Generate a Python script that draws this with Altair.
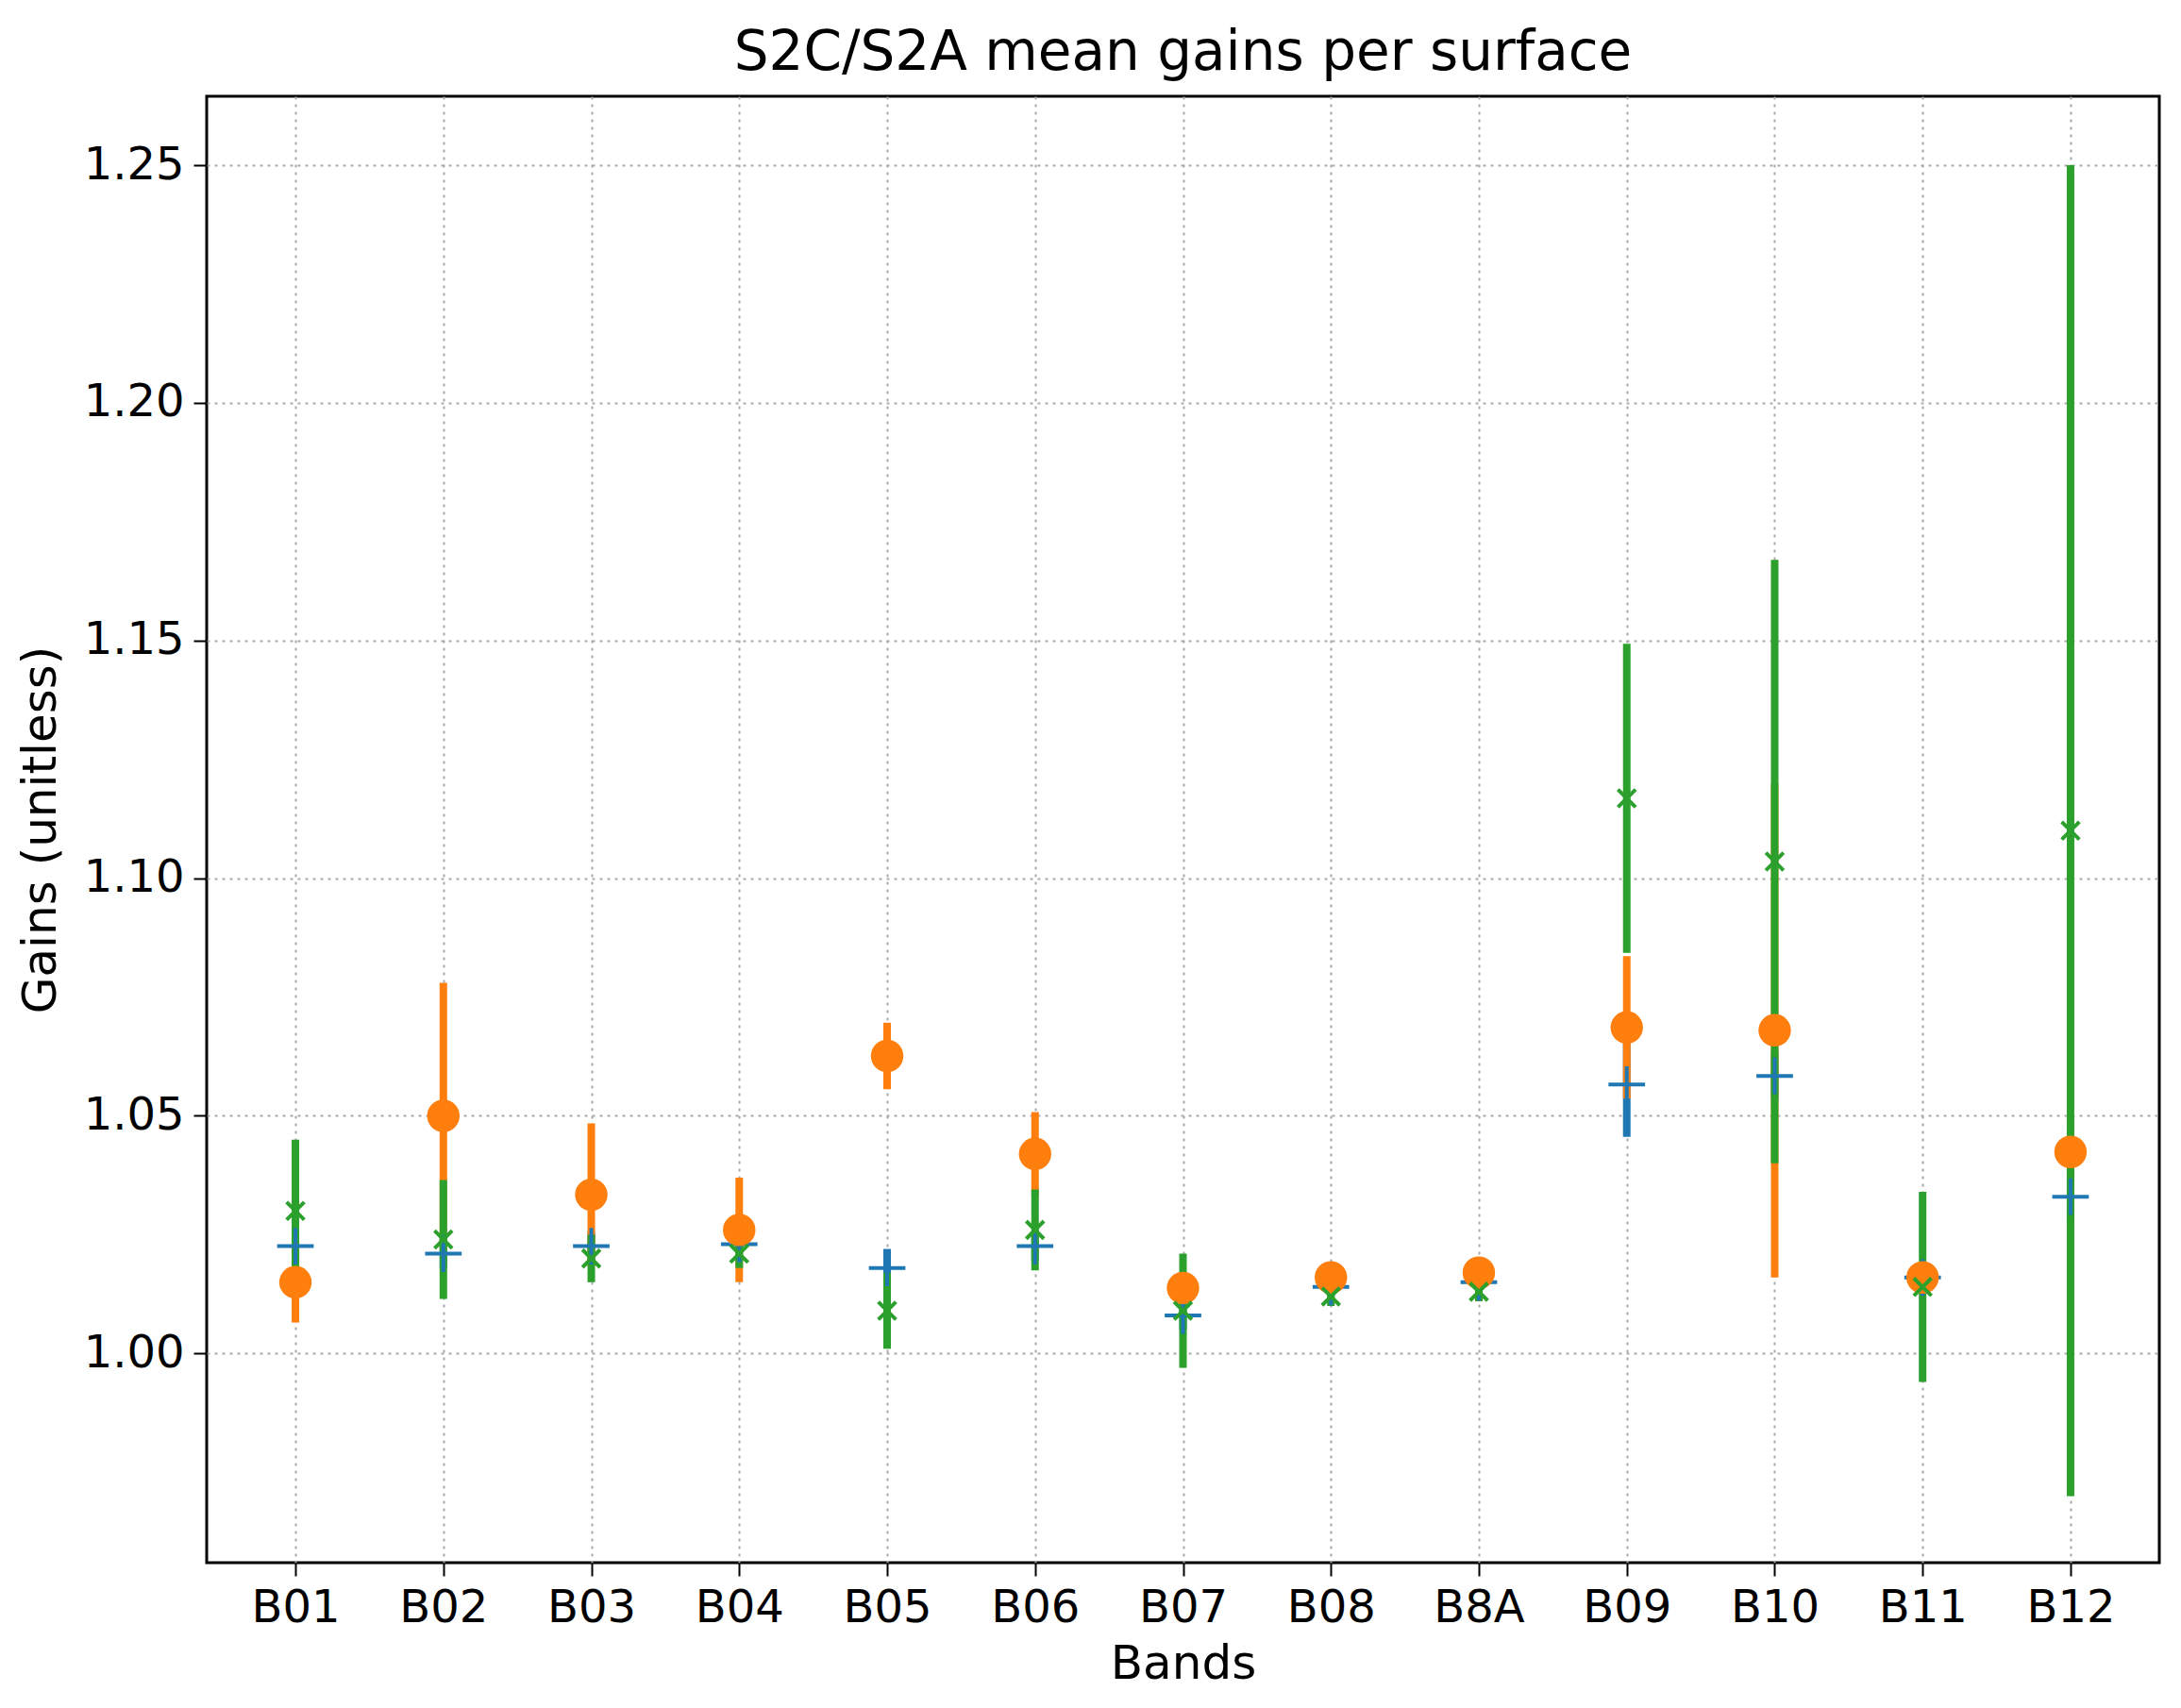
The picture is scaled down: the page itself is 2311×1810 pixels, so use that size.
import altair as alt
import pandas as pd

bands = ["B01", "B02", "B03", "B04", "B05", "B06", "B07", "B08", "B8A", "B09", "B10", "B11", "B12"]

soil_mean = [1.0226, 1.021, 1.0226, 1.023, 1.018, 1.0226, 1.008, 1.014, 1.015, 1.0566, 1.0584, 1.016, 1.033]
soil_err = [0.003, 0.003, 0.003, 0.002, 0.004, 0.003, 0.003, 0.002, 0.002, 0.011, 0.005, 0.002, 0.005]
veg_mean = [1.015, 1.050, 1.0334, 1.026, 1.0626, 1.042, 1.0138, 1.016, 1.017, 1.0686, 1.068, 1.016, 1.0424]
veg_err = [0.0085, 0.028, 0.015, 0.011, 0.007, 0.0088, 0.002, 0.003, 0.002, 0.015, 0.052, 0.002, 0.005]
water_mean = [1.030, 1.024, 1.020, 1.021, 1.009, 1.026, 1.009, 1.012, 1.013, 1.1168, 1.1035, 1.014, 1.110]
water_err = [0.015, 0.0125, 0.005, 0.003, 0.008, 0.0085, 0.012, 0.002, 0.002, 0.0325, 0.0635, 0.020, 0.140]

series = ["soil", "vegetation", "water"]
colors = ["#1f77b4", "#ff7f0e", "#2ca02c"]

rows = []
for k, (name, means, errs) in enumerate([("soil", soil_mean, soil_err),
                                         ("vegetation", veg_mean, veg_err),
                                         ("water", water_mean, water_err)]):
    for b, m, e in zip(bands, means, errs):
        rows.append({"band": b, "series": name, "ord": k, "mean": m, "lo": m - e, "hi": m + e})
df = pd.DataFrame(rows)

plus = "M-1,0L1,0M0,-1L0,1"
cross = "M-1,-1L1,1M-1,1L1,-1"

axis_style = dict(grid=True, gridDash=[3, 5], gridColor="#aaaaaa", gridWidth=2,
                  tickColor="black", tickSize=14, tickWidth=2, labelFontSize=48,
                  titleFontSize=50, labelColor="black", titleColor="black",
                  titleFontWeight="normal", labelPadding=10, domain=False)

x = alt.X("band:N", sort=bands, title="Bands",
          scale=alt.Scale(type="point", padding=0.6),
          axis=alt.Axis(labelAngle=0, titlePadding=10, **axis_style))
yscale = alt.Scale(domain=[0.956, 1.2645], nice=False, zero=False)
yaxis = alt.Axis(values=[1.0, 1.05, 1.10, 1.15, 1.20, 1.25], format=".2f",
                 titlePadding=20, **axis_style)
cscale = alt.Scale(domain=series, range=colors)
color = alt.Color("series:N", scale=cscale,
                  legend=alt.Legend(title=None, orient="top-left", labelFontSize=50,
                                    symbolStrokeWidth=5, strokeColor="#cccccc",
                                    padding=24, cornerRadius=6, fillColor="white",
                                    rowPadding=22, labelOffset=50, offset=25,
                                    labelColor="black"))

bars = alt.Chart(df).mark_rule(strokeWidth=8).encode(
    x=x,
    y=alt.Y("lo:Q", scale=yscale, axis=yaxis, title="Gains (unitless)"),
    y2="hi:Q",
    color=alt.Color("series:N", scale=cscale, legend=None),
    order=alt.Order("ord:Q"),
)

points = alt.Chart(df).mark_point(filled=True, strokeWidth=4, opacity=1).encode(
    x=x,
    y=alt.Y("mean:Q", scale=yscale),
    color=color,
    stroke=alt.Stroke("series:N", scale=cscale),
    shape=alt.Shape("series:N", scale=alt.Scale(domain=series, range=[plus, "circle", cross])),
    size=alt.Size("series:N", scale=alt.Scale(domain=series, range=[1500, 350, 1500])),
    order=alt.Order("ord:Q"),
)

chart = alt.layer(bars, points).properties(
    width=2290, height=1790,
    autosize=alt.AutoSizeParams(type="fit", contains="padding"),
    padding={"top": 20, "left": 10, "right": 10, "bottom": 10},
    title=alt.Title("S2C/S2A mean gains per surface", fontSize=58, fontWeight="normal",
                    color="black", offset=16),
).configure(font="DejaVu Sans").configure_view(stroke="black", strokeWidth=3)

chart.save("out.html", embed_options={"renderer": "svg", "actions": False})
